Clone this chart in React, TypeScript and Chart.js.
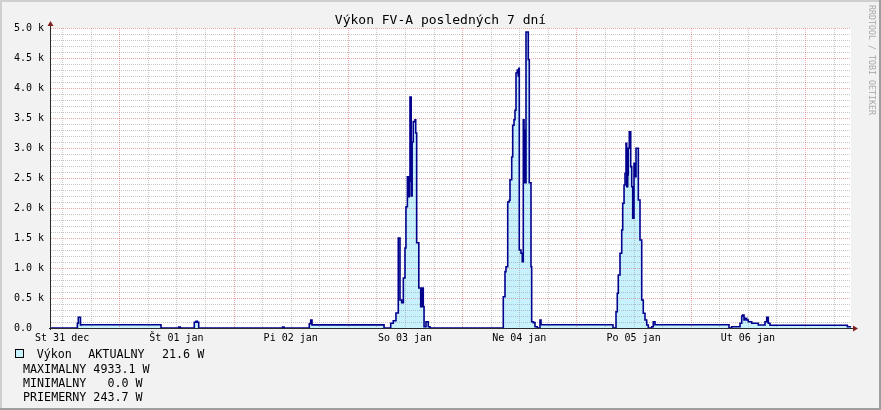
import React, { useEffect, useRef } from 'react';
import { Chart, registerables } from 'chart.js';

Chart.register(...registerables);

// ---------- data ----------
const TITLE = 'Výkon FV-A posledných 7 dní';
const WATERMARK = 'RRDTOOL / TOBI OETIKER';
// x values are hours counted from Wed 31 Dec 00:00
const X_START_H = 9.66;
const X_END_H = 177.66;
const DAY_LABELS = ['St 31 dec', 'Št 01 jan', 'Pi 02 jan', 'So 03 jan', 'Ne 04 jan', 'Po 05 jan', 'Ut 06 jan'];
const DAY_LABEL_HOURS = [12, 36, 60, 84, 108, 132, 156];
const Y_MAX = 5000;
const Y_STEP = 500;
const Y_MINOR_STEP = 100;
const X_MINOR_STEP_H = 6;
const X_MAJOR_STEP_H = 24;

const TIME_H = [
  9.66, 15.2, 15.4, 15.85, 16.05, 32.76, 36.5, 36.8, 39.75, 40.1, 40.4, 40.68,
  58.3, 58.6, 63.9, 64.2, 64.47, 79.6, 81.0, 81.54, 82.1, 82.59, 82.95, 83.3,
  83.65, 84.0, 84.2, 84.5, 84.75, 84.9, 85.05, 85.3, 85.5, 85.74, 86.1, 86.25,
  86.45, 86.9, 87.3, 87.5, 87.84, 88.0, 88.41, 88.89, 89.25,
  104.64, 105.0, 105.21, 105.57, 105.9, 106.05, 106.41, 106.62, 106.89, 107.1,
  107.31, 107.58, 107.79, 107.9, 108.0, 108.36, 108.63, 108.84, 109.0, 109.1,
  109.2, 109.41, 109.89, 110.1, 110.46, 110.6, 110.94, 111.3, 111.78, 112.35, 112.56,
  127.68, 128.31, 128.58, 128.79, 129.15, 129.51, 129.72, 130.0, 130.2, 130.41,
  130.56, 130.77, 130.89, 131.1, 131.4, 131.61, 131.82, 132.09, 132.3, 132.51,
  133.0, 133.35, 133.71, 134.04, 134.4, 134.76, 135.09, 135.8, 136.14, 136.5,
  152.04, 152.6, 154.35, 154.71, 154.92, 155.19, 155.4, 155.76, 156.09, 156.81,
  158.19, 159.6, 159.96, 160.29, 160.65, 176.9, 177.66,
];
const POWER_W = [
  0, 80, 178, 50, 55, 0, 15, 0, 95, 110, 95, 0,
  15, 0, 70, 133, 52, 0, 80, 122, 250, 1500, 467, 420,
  833, 1333, 2020, 2520, 2190, 2450, 3850, 2200, 3100, 3440, 3470, 3250,
  1420, 667, 356, 667, 356, 20, 105, 20, 0,
  520, 940, 1020, 2100, 2130, 2470, 2850, 3380, 3470, 3630,
  4250, 4300, 4200, 4330, 1300, 1245, 1105, 3470, 2420, 3300,
  2420, 4933, 4470, 2420, 1020, 105, 90, 22, 0, 133, 55,
  0, 272, 578, 883, 1245, 1633, 2078, 2383, 2578, 3078,
  2355, 2550, 2995, 3270, 2689, 2355, 1828, 2745, 2522, 2995,
  2133, 1467, 467, 245, 133, 50, 0, 22, 105, 55,
  0, 20, 78, 200, 217, 133, 161, 133, 105, 78,
  50, 105, 178, 78, 45, 22, 22,
];

const LEGEND_NAME = 'Výkon';
const LEGEND_CUR_LABEL = 'AKTUALNY';
const LEGEND_CUR_VALUE = '21.6 W';
const LEGEND_LINES = ['MAXIMALNY 4933.1 W', 'MINIMALNY   0.0 W', 'PRIEMERNY 243.7 W'];

// ---------- styles ----------
const MONO = '"DejaVu Sans Mono", "Liberation Mono", monospace';
const BG = '#F2F2F2';
const LINE_COLOR = '#00008C';
const FILL_COLOR = 'rgb(198, 241, 253)';
const GRID_MINOR = 'rgba(143,143,143,0.5)';
const GRID_MAJOR = 'rgba(222,80,80,0.5)';
const ARROW = '#801F1F';
const AXIS = '#2a2a2a';

const W = 881;
const H = 410;

export default function App() {
  const ref = useRef<HTMLCanvasElement | null>(null);

  useEffect(() => {
    document.body.style.margin = '0';
    const canvas = ref.current;
    if (!canvas) return;
    const points = TIME_H.map((t, i) => ({ x: t, y: POWER_W[i] }));

    const rrdPlugin = {
      id: 'rrd',
      beforeDraw(chart: any) {
        const { ctx, chartArea: a } = chart;
        ctx.save();
        ctx.fillStyle = BG;
        ctx.fillRect(0, 0, W, H);
        ctx.fillStyle = '#CFCFCF';
        ctx.fillRect(0, 0, W, 2);
        ctx.fillRect(0, 0, 2, H);
        ctx.fillStyle = '#9E9E9E';
        ctx.fillRect(0, H - 2, W, 2);
        ctx.fillRect(W - 2, 0, 2, H);
        ctx.fillStyle = '#FFFFFF';
        ctx.fillRect(a.left, a.top, a.right - a.left, a.bottom - a.top);
        ctx.restore();
      },
      afterDatasetDraw(chart: any, args: any) {
        if (args.index !== 1) return;
        const { ctx, chartArea: a, scales } = chart;
        const xs = scales.x;
        const ys = scales.y;
        ctx.save();
        ctx.lineWidth = 1;
        ctx.setLineDash([1, 1]);
        for (let v = Y_MINOR_STEP; v <= Y_MAX; v += Y_MINOR_STEP) {
          const y = Math.round(ys.getPixelForValue(v)) + 0.5;
          ctx.strokeStyle = v % Y_STEP === 0 ? GRID_MAJOR : GRID_MINOR;
          ctx.beginPath();
          ctx.moveTo(a.left, y);
          ctx.lineTo(a.right, y);
          ctx.stroke();
        }
        const first = Math.ceil(X_START_H / X_MINOR_STEP_H) * X_MINOR_STEP_H;
        for (let h = first; h < X_END_H; h += X_MINOR_STEP_H) {
          const x = Math.round(xs.getPixelForValue(h)) + 0.5;
          ctx.strokeStyle = h % X_MAJOR_STEP_H === 0 ? GRID_MAJOR : GRID_MINOR;
          ctx.beginPath();
          ctx.moveTo(x, a.top);
          ctx.lineTo(x, a.bottom);
          ctx.stroke();
        }
        ctx.restore();
      },
      afterDraw(chart: any) {
        const { ctx, chartArea: a } = chart;
        ctx.save();
        ctx.strokeStyle = AXIS;
        ctx.lineWidth = 1;
        ctx.beginPath();
        ctx.moveTo(a.left - 0.5, a.bottom + 2);
        ctx.lineTo(a.left - 0.5, a.top - 4);
        ctx.moveTo(a.left - 2, a.bottom + 0.5);
        ctx.lineTo(a.right + 4, a.bottom + 0.5);
        ctx.stroke();
        ctx.fillStyle = ARROW;
        ctx.beginPath();
        ctx.moveTo(a.left - 3.5, a.top - 2);
        ctx.lineTo(a.left + 2.5, a.top - 2);
        ctx.lineTo(a.left - 0.5, a.top - 7);
        ctx.closePath();
        ctx.fill();
        ctx.beginPath();
        ctx.moveTo(a.right + 2, a.bottom - 2.5);
        ctx.lineTo(a.right + 2, a.bottom + 3.5);
        ctx.lineTo(a.right + 7, a.bottom + 0.5);
        ctx.closePath();
        ctx.fill();
        ctx.restore();
      },
    };

    const chart = new Chart(canvas, {
      type: 'line',
      data: {
        datasets: [
          {
            label: 'line',
            data: points,
            stepped: true,
            borderColor: LINE_COLOR,
            borderWidth: 1.6,
            pointRadius: 0,
            fill: false,
            clip: 4,
          },
          {
            label: 'area',
            data: points,
            stepped: true,
            borderColor: 'transparent',
            borderWidth: 1,
            backgroundColor: FILL_COLOR,
            pointRadius: 0,
            fill: 'origin',
          },
        ],
      } as any,
      options: {
        animation: false,
        responsive: false,
        devicePixelRatio: 1,
        events: [],
        layout: { padding: { top: 28, left: 14, right: 30, bottom: 0 } },
        plugins: { legend: { display: false }, tooltip: { enabled: false }, title: { display: false } },
        scales: {
          x: {
            type: 'linear',
            min: X_START_H,
            max: X_END_H,
            grid: { display: false, drawTicks: false },
            border: { display: false },
            afterBuildTicks: (scale: any) => {
              scale.ticks = DAY_LABEL_HOURS.map((v) => ({ value: v }));
            },
            afterFit: (scale: any) => {
              scale.height = 82;
            },
            ticks: {
              autoSkip: false,
              maxRotation: 0,
              minRotation: 0,
              padding: 4,
              color: '#000',
              font: { family: MONO, size: 10 },
              callback: (_v: any, i: number) => DAY_LABELS[i],
            },
          },
          y: {
            type: 'linear',
            min: 0,
            max: Y_MAX,
            grid: { display: false, drawTicks: false },
            border: { display: false },
            afterFit: (scale: any) => {
              scale.width = 37;
            },
            ticks: {
              stepSize: Y_STEP,
              crossAlign: 'far',
              color: '#000',
              font: { family: MONO, size: 10 },
              callback: (v: any) => (v === 0 ? '0.0' : (v / 1000).toFixed(1) + ' k'),
            },
          },
        },
      } as any,
      plugins: [rrdPlugin],
    });
    return () => chart.destroy();
  }, []);

  const txt: React.CSSProperties = {
    position: 'absolute',
    fontFamily: MONO,
    fontSize: '11.7px',
    lineHeight: 'normal',
    whiteSpace: 'pre',
    color: '#000',
  };

  return (
    <div style={{ position: 'relative', width: W, height: H, overflow: 'hidden' }}>
      <canvas ref={ref} width={W} height={H} style={{ position: 'absolute', left: 0, top: 0, width: W, height: H }} />
      <div
        style={{
          position: 'absolute',
          left: 0,
          top: 12,
          width: W,
          textAlign: 'center',
          fontFamily: MONO,
          fontSize: '13px',
          lineHeight: 'normal',
          whiteSpace: 'pre',
          color: '#000',
        }}
      >
        {TITLE}
      </div>
      <div
        style={{
          position: 'absolute',
          left: 876,
          top: 5,
          transform: 'rotate(90deg)',
          transformOrigin: '0 0',
          fontFamily: MONO,
          fontSize: '8.3px',
          lineHeight: 1,
          whiteSpace: 'pre',
          color: '#A8A8A8',
        }}
      >
        {WATERMARK}
      </div>
      <div
        style={{
          position: 'absolute',
          left: 15,
          top: 349,
          width: 9,
          height: 9,
          boxSizing: 'border-box',
          border: '1px solid #000',
          background: FILL_COLOR,
        }}
      />
      <div style={{ ...txt, left: 36.7, top: 347.4 }}>{LEGEND_NAME}</div>
      <div style={{ ...txt, left: 88.3, top: 347.4 }}>{LEGEND_CUR_LABEL}</div>
      <div style={{ ...txt, left: 162, top: 347.4 }}>{LEGEND_CUR_VALUE}</div>
      {LEGEND_LINES.map((l, i) => (
        <div key={i} style={{ ...txt, left: 23, top: 361.8 + i * 14.2 }}>
          {l}
        </div>
      ))}
    </div>
  );
}
